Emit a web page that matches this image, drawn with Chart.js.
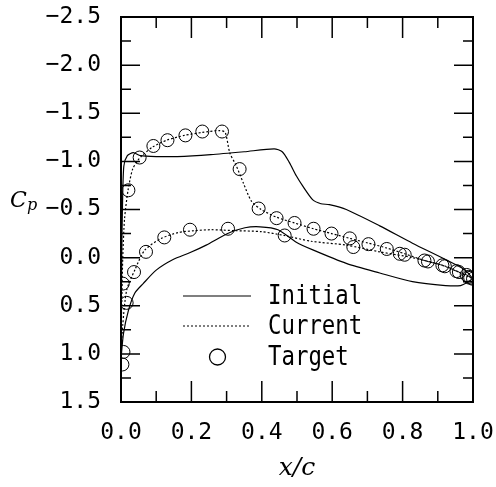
<!DOCTYPE html>
<html>
<head>
<meta charset="utf-8">
<script src="https://cdn.jsdelivr.net/npm/chart.js@4/dist/chart.umd.min.js"></script>
<style>
  html, body { margin: 0; padding: 0; background: #fff; }
  #wrap { width: 496px; height: 487px; }
</style>
</head>
<body>
<div id="wrap"><canvas id="myChart" width="496" height="487"></canvas></div>
<script>
// x/c and Cp values
const initialUpperX = [0.0, 0.001, 0.002, 0.004, 0.008, 0.018, 0.035, 0.055, 0.1, 0.16, 0.255, 0.35, 0.435, 0.458, 0.478, 0.498, 0.517, 0.545, 0.568, 0.592, 0.64, 0.735, 0.828, 0.922, 0.978, 1.0];
const initialUpperY = [1.0, 0.5, 0.0, -0.5, -0.95, -1.06, -1.09, -1.06, -1.05, -1.05, -1.07, -1.1, -1.13, -1.1, -0.99, -0.85, -0.74, -0.6, -0.56, -0.55, -0.5, -0.33, -0.15, 0.02, 0.13, 0.22];
const initialLowerX = [0.0, 0.007, 0.021, 0.039, 0.063, 0.1, 0.148, 0.195, 0.242, 0.303, 0.352, 0.395, 0.446, 0.498, 0.545, 0.64, 0.735, 0.828, 0.922, 0.965, 0.988, 1.0];
const initialLowerY = [1.05, 0.79, 0.55, 0.37, 0.27, 0.13, 0.02, -0.05, -0.13, -0.25, -0.31, -0.32, -0.29, -0.16, -0.08, 0.06, 0.16, 0.25, 0.29, 0.29, 0.25, 0.22];

const currentUpperX = [0.0, 0.002, 0.005, 0.01, 0.02, 0.033, 0.048, 0.06, 0.09, 0.13, 0.18, 0.23, 0.28, 0.296, 0.309, 0.328, 0.347, 0.37, 0.398, 0.442, 0.493, 0.547, 0.598, 0.65, 0.703, 0.755, 0.806, 0.862, 0.913, 0.953, 0.982, 1.0];
const currentUpperY = [1.0, 0.5, 0.0, -0.4, -0.7, -0.92, -1.01, -1.06, -1.15, -1.22, -1.27, -1.3, -1.32, -1.3, -1.09, -0.95, -0.78, -0.59, -0.5, -0.42, -0.36, -0.3, -0.25, -0.2, -0.15, -0.1, -0.04, 0.03, 0.08, 0.14, 0.18, 0.22];
const currentLowerX = [0.0, 0.005, 0.016, 0.039, 0.068, 0.115, 0.162, 0.209, 0.256, 0.323, 0.398, 0.464, 0.54, 0.64, 0.735, 0.828, 0.922, 0.988, 1.0];
const currentLowerY = [1.0, 0.7, 0.34, 0.13, -0.08, -0.2, -0.26, -0.28, -0.29, -0.28, -0.27, -0.23, -0.17, -0.13, -0.06, 0.0, 0.09, 0.2, 0.22];

const targetX = [0.021, 0.053, 0.092, 0.132, 0.183, 0.231, 0.287, 0.337, 0.391, 0.442, 0.493, 0.547, 0.598, 0.65, 0.703, 0.755, 0.806, 0.862, 0.913, 0.953, 0.982, 0.992,
                 0.004, 0.007, 0.016, 0.005, 0.037, 0.071, 0.123, 0.196, 0.304, 0.465, 0.66, 0.792, 0.872, 0.92, 0.96, 0.988, 1.0];
const targetY = [-0.7, -1.04, -1.16, -1.22, -1.27, -1.31, -1.31, -0.92, -0.51, -0.41, -0.36, -0.3, -0.25, -0.2, -0.14, -0.09, -0.03, 0.03, 0.08, 0.14, 0.18, 0.21,
                 1.11, 0.98, 0.47, 0.27, 0.15, -0.06, -0.21, -0.29, -0.3, -0.23, -0.11, -0.04, 0.04, 0.09, 0.15, 0.2, 0.22];

const xTicks = [0, 0.2, 0.4, 0.6, 0.8, 1.0];
const yTicks = [-2.5, -2.0, -1.5, -1.0, -0.5, 0.0, 0.5, 1.0, 1.5];
const legendLabels = ['Initial', 'Current', 'Target'];

const pts = (xs, ys) => xs.map((x, i) => ({ x: x, y: ys[i] }));
const monoFont = '"DejaVu Sans Mono", monospace';

const lineSet = (data, dash) => ({
  type: 'line',
  data: data,
  borderColor: '#000',
  borderWidth: 1.2,
  borderDash: dash,
  pointRadius: 0,
  tension: 0.25,
  fill: false,
});

// keep the plot box where the picture has it
const fixPad = (s) => {
  s.paddingLeft = 0; s.paddingRight = 0; s.paddingTop = 0; s.paddingBottom = 0;
};

// inward ticks, frame, axis titles and legend
const decor = {
  id: 'decor',
  afterDraw(chart) {
    const { ctx, chartArea: a, scales } = chart;
    const xs = scales.x, ys = scales.y;
    ctx.save();
    ctx.strokeStyle = '#000';
    ctx.lineWidth = 1.5;
    ctx.beginPath();
    for (let i = 1; i < 10; i++) {
      const v = i / 10;
      const px = xs.getPixelForValue(v);
      const len = i % 2 === 0 ? 21 : 11;
      ctx.moveTo(px, a.bottom); ctx.lineTo(px, a.bottom - len);
      ctx.moveTo(px, a.top); ctx.lineTo(px, a.top + len);
    }
    for (let i = 1; i < 16; i++) {
      const v = -2.5 + i * 0.25;
      const py = ys.getPixelForValue(v);
      const len = i % 2 === 0 ? 19 : 10;
      ctx.moveTo(a.left, py); ctx.lineTo(a.left + len, py);
      ctx.moveTo(a.right, py); ctx.lineTo(a.right - len, py);
    }
    ctx.stroke();
    ctx.lineWidth = 2;
    ctx.strokeRect(a.left, a.top, a.right - a.left, a.bottom - a.top);

    // axis titles
    ctx.fillStyle = '#000';
    ctx.textBaseline = 'alphabetic';
    ctx.textAlign = 'left';
    ctx.font = 'italic 22px "DejaVu Serif", serif';
    ctx.fillText('C', 10, 207);
    ctx.font = 'italic 16px "DejaVu Serif", serif';
    ctx.fillText('p', 27, 210);
    ctx.textAlign = 'center';
    ctx.font = 'italic 25px "DejaVu Serif", serif';
    ctx.fillText('x/c', (a.left + a.right) / 2, 475);

    // legend
    const rowY = [296, 326, 357];
    ctx.lineWidth = 1.2;
    ctx.beginPath();
    ctx.moveTo(183, rowY[0]); ctx.lineTo(251, rowY[0]);
    ctx.stroke();
    ctx.setLineDash([2, 2]);
    ctx.beginPath();
    ctx.moveTo(183, rowY[1]); ctx.lineTo(249, rowY[1]);
    ctx.stroke();
    ctx.setLineDash([]);
    ctx.lineWidth = 1.3;
    ctx.beginPath();
    ctx.arc(217.5, rowY[2], 8, 0, Math.PI * 2);
    ctx.stroke();
    ctx.textAlign = 'left';
    ctx.textBaseline = 'middle';
    ctx.font = '26px ' + monoFont;
    legendLabels.forEach((t, i) => {
      ctx.save();
      ctx.translate(268, rowY[i]);
      ctx.scale(0.86, 1);
      ctx.fillText(t, 0, 1);
      ctx.restore();
    });
    ctx.restore();
  },
};

const fmt = (v) => (v < 0 ? '\u2212' : '') + Math.abs(v).toFixed(1);

new Chart(document.getElementById('myChart'), {
  type: 'scatter',
  data: {
    datasets: [
      lineSet(pts(initialUpperX, initialUpperY), []),
      lineSet(pts(initialLowerX, initialLowerY), []),
      lineSet(pts(currentUpperX, currentUpperY), [2, 2]),
      lineSet(pts(currentLowerX, currentLowerY), [2, 2]),
      {
        type: 'scatter',
        data: pts(targetX, targetY),
        pointStyle: 'circle',
        pointRadius: 6.5,
        borderColor: '#000',
        borderWidth: 1,
        backgroundColor: 'rgba(0,0,0,0)',
      },
    ],
  },
  options: {
    responsive: false,
    animation: false,
    events: [],
    layout: { padding: { top: 17, right: 23, left: 0, bottom: 0 } },
    plugins: { legend: { display: false }, tooltip: { enabled: false } },
    scales: {
      x: {
        type: 'linear',
        min: 0,
        max: 1,
        afterFit: (s) => { s.height = 85; fixPad(s); },
        afterBuildTicks: (s) => { s.ticks = xTicks.map((v) => ({ value: v })); },
        grid: { display: false, drawTicks: false },
        border: { display: false },
        ticks: {
          padding: 17,
          color: '#000',
          font: { family: monoFont, size: 23 },
          callback: (v) => fmt(v),
        },
      },
      y: {
        type: 'linear',
        reverse: true,
        min: -2.5,
        max: 1.5,
        afterFit: (s) => { s.width = 121; fixPad(s); },
        afterBuildTicks: (s) => { s.ticks = yTicks.map((v) => ({ value: v })); },
        grid: { display: false, drawTicks: false },
        border: { display: false },
        ticks: {
          padding: 20,
          color: '#000',
          font: { family: monoFont, size: 23 },
          callback: (v) => fmt(v),
        },
      },
    },
  },
  plugins: [decor],
});
</script>
</body>
</html>
